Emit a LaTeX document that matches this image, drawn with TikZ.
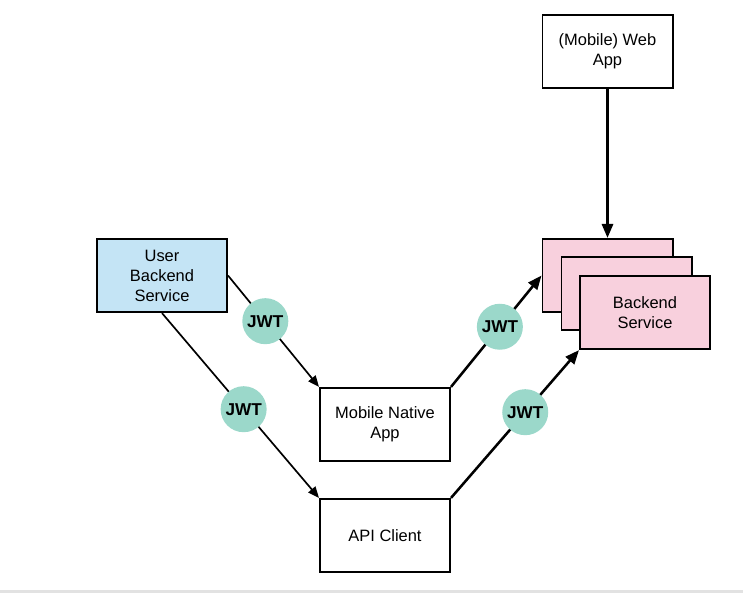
\documentclass[tikz,border=0pt]{standalone}
\usepackage{fontspec}
\setmainfont{Liberation Sans}
\usepackage{xcolor}
\usepackage{tikz}
\usetikzlibrary{arrows.meta,positioning,calc}

\definecolor{userblue}{RGB}{196,228,245}
\definecolor{backpink}{RGB}{248,208,221}
\definecolor{jwtgreen}{RGB}{155,216,202}
\definecolor{stripgray}{RGB}{226,226,226}

\begin{document}
\begin{tikzpicture}[
    x=0.025cm, y=-0.025cm,
    box/.style={rectangle, draw, line width=1.4pt, minimum width=3.25cm, minimum height=1.83cm, align=center, font=\fontsize{11.7}{14.2}\selectfont},
    jwt/.style={circle, fill=jwtgreen, inner sep=0pt, minimum size=1.15cm, font=\fontsize{12.2}{13}\selectfont\bfseries},
    arrow/.style={-{Triangle[length=3.5mm,width=2.8mm]}, line width=1.8pt},
    thinarrow/.style={-{Triangle[length=2.8mm,width=2.3mm]}, line width=1.2pt}
]
\useasboundingbox (0,0) rectangle (743,593);
\fill[stripgray] (0,590) rectangle (743,593);

% Clients
\node[box] (webapp) at (607.5,51.5) {(Mobile) Web\\App};
\node[box, fill=userblue] (userbs) at (162,275.5) {User\\Backend\\Service};
\node[box] (mobile) at (385,424.5) {Mobile Native\\App};
\node[box] (api) at (385,535.5) {API Client};

% Backend services (stacked)
\node[box, fill=backpink] (be1) at (607.5,275.5) {};
\node[box, fill=backpink] (be2) at (626.5,293.5) {};
\node[box, fill=backpink] (be3) at (645,312.5) {Backend\\Service};

% Token hand-out
\draw[thinarrow] (userbs.east) -- (mobile.north west) node[jwt, pos=0.41] (jwt1) {JWT};
\draw[thinarrow] (userbs.south) -- (api.north west) node[jwt, pos=0.52] (jwt2) {JWT};

% Calls to the backend
\draw[arrow] (webapp.south) -- (be1.north);
\draw[arrow] (mobile.north east) -- (be1.west) node[jwt, pos=0.54] (jwt3) {JWT};
\draw[arrow] (api.north east) -- (be3.south west) node[jwt, pos=0.58] (jwt4) {JWT};

\end{tikzpicture}
\end{document}
